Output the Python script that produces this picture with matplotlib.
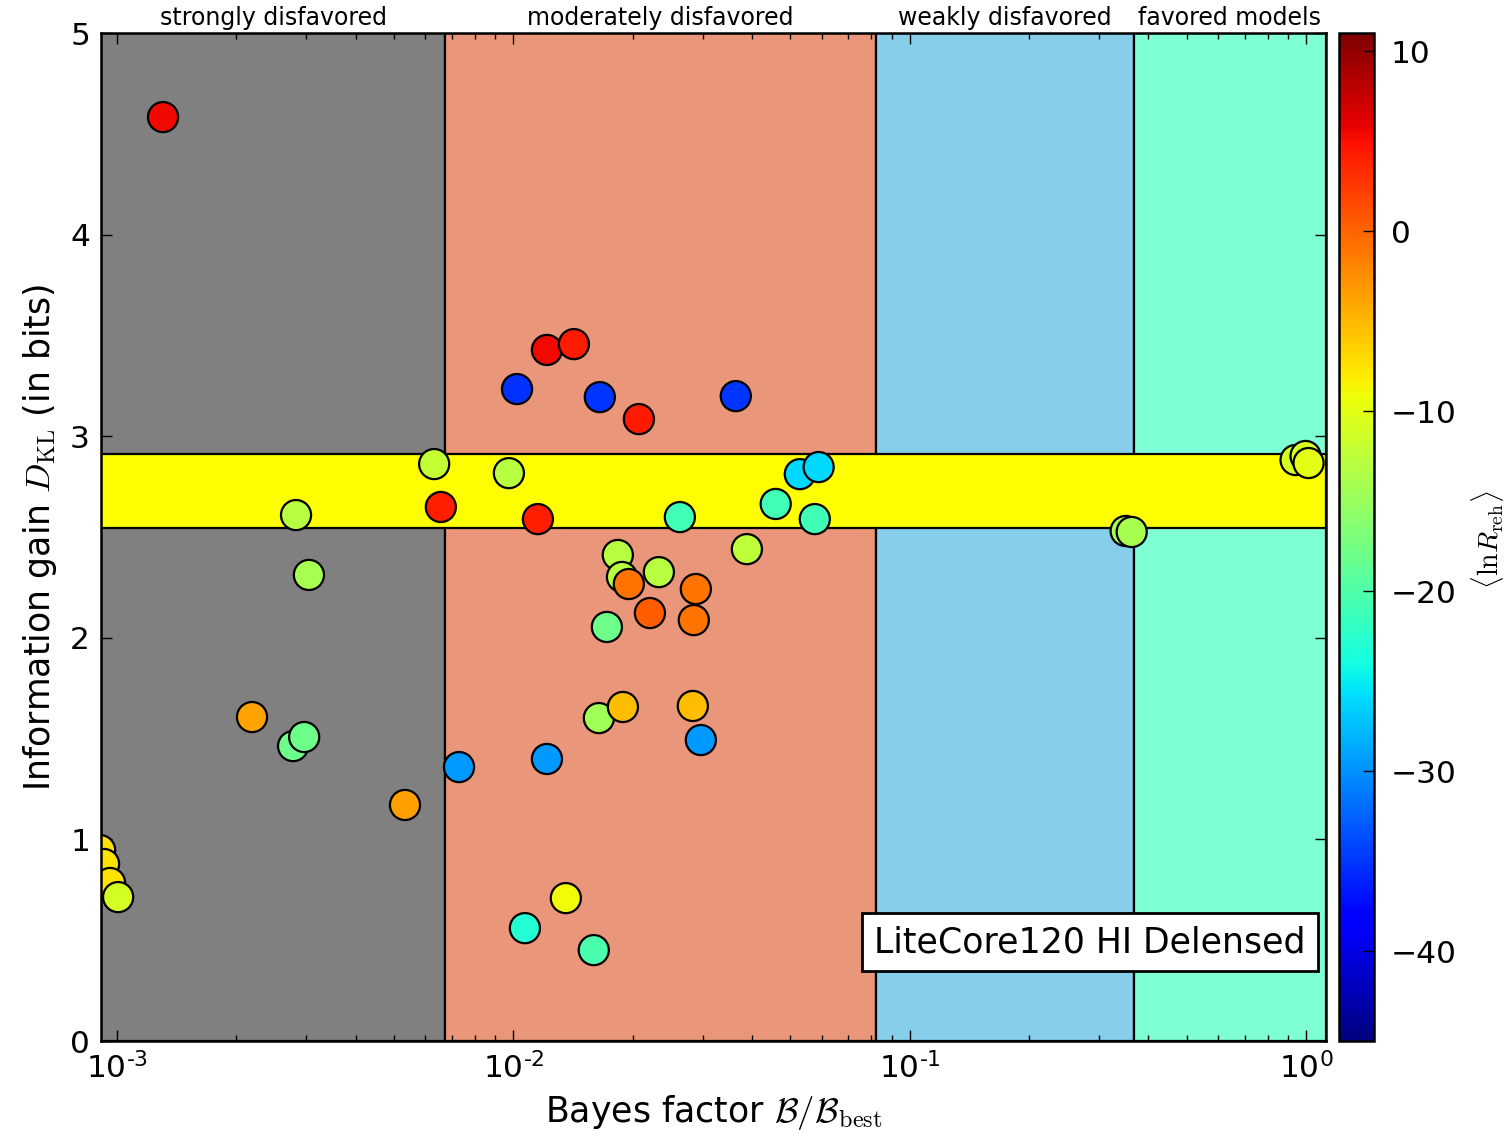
import numpy as np
import matplotlib
matplotlib.use("Agg")
import matplotlib.pyplot as plt
from matplotlib.colors import Normalize

plt.rcParams['mathtext.fontset'] = 'cm'
plt.rcParams['font.family'] = ['DejaVu Sans']

# Bayes factor relative to best model
bayes = [1.306e-3, 0.01215, 0.01421, 0.01021, 0.01652, 0.02073, 0.0364,
         0.00631, 0.00656, 0.00974, 0.01153, 0.002828, 0.003048,
         0.0263, 0.0459, 0.0528, 0.0589, 0.0576,
         0.01834, 0.01879, 0.01955, 0.02328, 0.02886, 0.02210, 0.02852,
         0.03882, 0.01721, 0.01643, 0.01889, 0.02836, 0.02971, 0.01215,
         0.00729, 0.01356, 0.01069, 0.01595,
         0.002190, 0.00278, 0.002965, 0.005326,
         9.06e-4, 9.27e-4, 9.60e-4, 1.006e-3,
         0.3506, 0.3631, 0.9408, 0.997, 1.0146]

# Information gain D_KL (bits)
dkl = [4.583, 3.428, 3.457, 3.234, 3.194, 3.085, 3.199,
       2.862, 2.649, 2.817, 2.589, 2.609, 2.312,
       2.599, 2.664, 2.812, 2.847, 2.589,
       2.411, 2.302, 2.267, 2.326, 2.242, 2.123, 2.088,
       2.440, 2.054, 1.602, 1.657, 1.662, 1.493, 1.399,
       1.359, 0.709, 0.560, 0.451,
       1.607, 1.463, 1.508, 1.171,
       0.947, 0.878, 0.784, 0.714,
       2.530, 2.525, 2.882, 2.902, 2.867]

# Mean reheating parameter <ln R_reh>
lnR = [5.5, 5.5, 4.4, -35.2, -35.0, 4.4, -35.0,
       -12.0, 4.0, -13.0, 4.0, -13.0, -14.0,
       -21.0, -21.0, -26.0, -26.0, -21.0,
       -13.0, -13.0, -1.0, -13.0, -1.0, 0.4, -1.0,
       -12.5, -18.0, -14.5, -5.4, -5.4, -29.6, -29.6,
       -29.6, -9.0, -23.0, -20.5,
       -3.8, -18.0, -18.0, -3.5,
       -7.4, -7.4, -7.4, -11.0,
       -14.0, -14.0, -11.0, -11.0, -10.0]

# Jeffreys-scale evidence regions (ln B thresholds -5, -2.5, -1)
region_edges = [np.exp(-5.0), np.exp(-2.5), np.exp(-1.0)]
region_names = ["strongly disfavored", "moderately disfavored",
                "weakly disfavored", "favored models"]
region_colors = ["grey", "darksalmon", "skyblue", "aquamarine"]

band_low, band_high = 2.545, 2.912
xlim = (9.11e-4, 1.123)
ylim = (0.0, 5.0)
cmin, cmax = -45.0, 11.0

fig = plt.figure(figsize=(15.06, 11.43), dpi=100)
ax = fig.add_axes([0.0671, 0.0892, 0.8134, 0.8819])
cax = fig.add_axes([0.8891, 0.0892, 0.0232, 0.8819])

ax.set_xscale('log')
ax.set_xlim(*xlim)
ax.set_ylim(*ylim)

bounds = [xlim[0]] + region_edges + [xlim[1]]
for i in range(4):
    ax.axvspan(bounds[i], bounds[i + 1], facecolor=region_colors[i],
               edgecolor='black', linewidth=1.6, zorder=0)
    xc = np.sqrt(bounds[i] * bounds[i + 1])
    ax.text(xc, 1.003, region_names[i], transform=ax.get_xaxis_transform(),
            ha='center', va='bottom', fontsize=17)

ax.axhspan(band_low, band_high, facecolor='yellow', edgecolor='black',
           linewidth=1.6, zorder=1)

norm = Normalize(vmin=cmin, vmax=cmax)
sc = ax.scatter(bayes, dkl, c=lnR, cmap='jet', norm=norm, s=470,
                edgecolors='black', linewidths=1.6, zorder=3)

ax.set_xticks([1e-3, 1e-2, 1e-1, 1.0])
ax.set_xticklabels([r'$\mathdefault{10^{‐3}}$', r'$\mathdefault{10^{‐2}}$',
                    r'$\mathdefault{10^{‐1}}$', r'$\mathdefault{10^{0}}$'])
ax.set_yticks([0, 1, 2, 3, 4, 5])
ax.tick_params(which='both', direction='in', top=True, right=True,
               labelsize=22.5, width=1.0)
ax.tick_params(which='major', length=8, pad=8)
ax.tick_params(which='minor', length=4.5)
ax.tick_params(axis='y', which='minor', left=False, right=False)
for sp in ax.spines.values():
    sp.set_linewidth(1.8)
    sp.set_zorder(5)

ax.set_xlabel(r'Bayes factor $\mathcal{B}/\mathcal{B}_{\rm best}$',
              fontsize=25, labelpad=6)
ax.set_ylabel(r'Information gain $D_{\rm KL}$ (in bits)', fontsize=25,
              labelpad=8)

ax.text(0.8073, 0.0982, 'LiteCore120 HI Delensed', transform=ax.transAxes,
        ha='center', va='center', fontsize=25, zorder=6,
        bbox=dict(boxstyle='square,pad=0.34', facecolor='white',
                  edgecolor='black', linewidth=2))

cb = fig.colorbar(sc, cax=cax)
cb.set_ticks([10, 0, -10, -20, -30, -40])
cb.ax.tick_params(direction='in', length=8, width=1.0, labelsize=22.5, pad=12)
cb.outline.set_linewidth(1.8)
fig.text(1487 / 1506, 1 - 540 / 1143, r'$\langle \mathrm{ln} R_{\rm reh}\rangle$',
         rotation=90, ha='center', va='center', fontsize=20)

fig.savefig('out.png', dpi=100)
